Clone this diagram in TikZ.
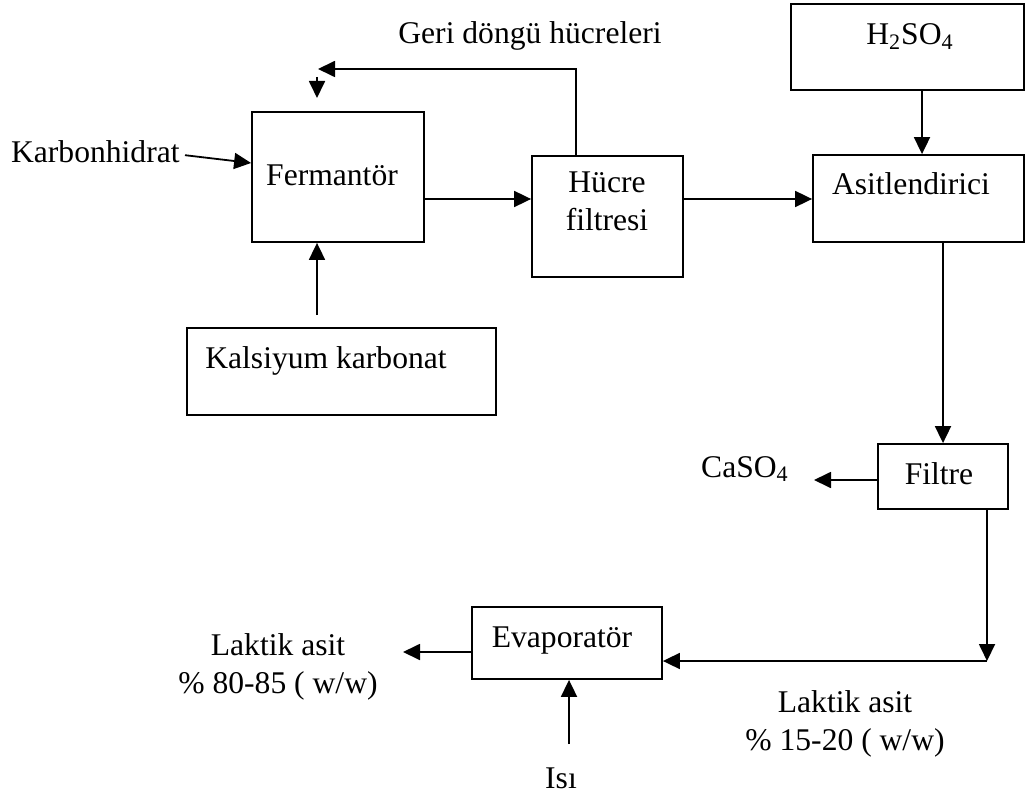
\documentclass[tikz,border=0pt]{standalone}
\usepackage{fontspec}
\setmainfont{Liberation Serif}
\usetikzlibrary{arrows.meta,calc,positioning}

\tikzset{
  box/.style={draw, line width=0.9pt, inner sep=0pt},
  flow/.style={line width=0.9pt, -{Triangle[length=8.5pt,width=8pt]}},
  lbl/.style={anchor=base, inner sep=0pt, align=center},
}

\begin{document}
\begin{tikzpicture}[x=0.5pt,y=-0.5pt,font=\fontsize{15.8}{19}\selectfont]
  \useasboundingbox (0,0) rectangle (1026,796);
  % process boxes: name / centre x / centre y / width / height (px)
  \foreach \n/\x/\y/\w/\h in {ferm/338/177/172/130, hucre/607.5/216.5/151/121,
      acid/907.5/47/233/86, asit/918.5/198.5/211/87, filtre/943/476.5/130/65,
      evap/567/643/190/72, kalsiyum/341.5/371.5/309/87}{
    \node[box, minimum width=\w*0.5pt, minimum height=\h*0.5pt] (\n) at (\x,\y) {};
  }
  % texts (two-line nodes sit on their last baseline)
  \node[lbl] (tferm) at (332,186) {Fermantör};
  \node[lbl] (thucre) at (607,231) {Hücre\\filtresi};
  \node[lbl] (tacid) at (910,45) {H\textsubscript{2}SO\textsubscript{4}};
  \node[lbl] (tasit) at (911,195) {Asitlendirici};
  \node[lbl] (tfiltre) at (939,484) {Filtre};
  \node[lbl] (tevap) at (562,647) {Evaporatör};
  \node[lbl] (tkals) at (326,368) {Kalsiyum karbonat};
  \node[lbl, anchor=base east] (karb) at (180,163) {Karbonhidrat};
  \node[lbl] (geri) at (530,44) {Geri döngü hücreleri};
  \node[lbl] (caso) at (745,477) {CaSO\textsubscript{4}};
  \node[lbl] (lakt1) at (278,693) {Laktik asit\\\% 80-85 ( w/w)};
  \node[lbl] (lakt2) at (845,750) {Laktik asit\\\% 15-20 ( w/w)};
  \node[lbl] (isi) at (561,788) {Isı};

  % free ends
  \coordinate (back) at (318,69);
  \coordinate (dtop) at (317,77);
  \coordinate (dbot) at (317,98);
  \coordinate (kin) at (317,315);
  \coordinate (cout) at (814,480);
  \coordinate (corner) at (987,661);
  \coordinate (lout) at (403,652);
  \coordinate (heat) at (569,744);

  % connectors
  \draw[flow] (ferm.east |- 0,199) -- (hucre.west |- 0,199);
  \draw[flow] (hucre.east |- 0,199) -- (asit.west |- 0,199);
  \draw[flow] (576,0 |- hucre.north) -- (576,0 |- back) -- (back);
  \draw[flow] (dtop) -- (dbot);
  \draw[flow] ([xshift=2.5pt,yshift=-1.5pt]karb.east) -- ([yshift=7pt]ferm.west);
  \draw[flow] (kin) -- (kin |- ferm.south);
  \draw[flow] (922,0 |- acid.south) -- (922,0 |- asit.north);
  \draw[flow] (asit.south -| filtre.north) -- (filtre.north);
  \draw[flow] (filtre.west |- cout) -- (cout);
  \draw[flow] (corner |- filtre.south) -- (corner);
  \draw[flow] (corner) -- (evap.east |- corner);
  \draw[flow] (evap.west |- lout) -- (lout);
  \draw[flow] (heat) -- (heat |- evap.south);
\end{tikzpicture}
\end{document}
